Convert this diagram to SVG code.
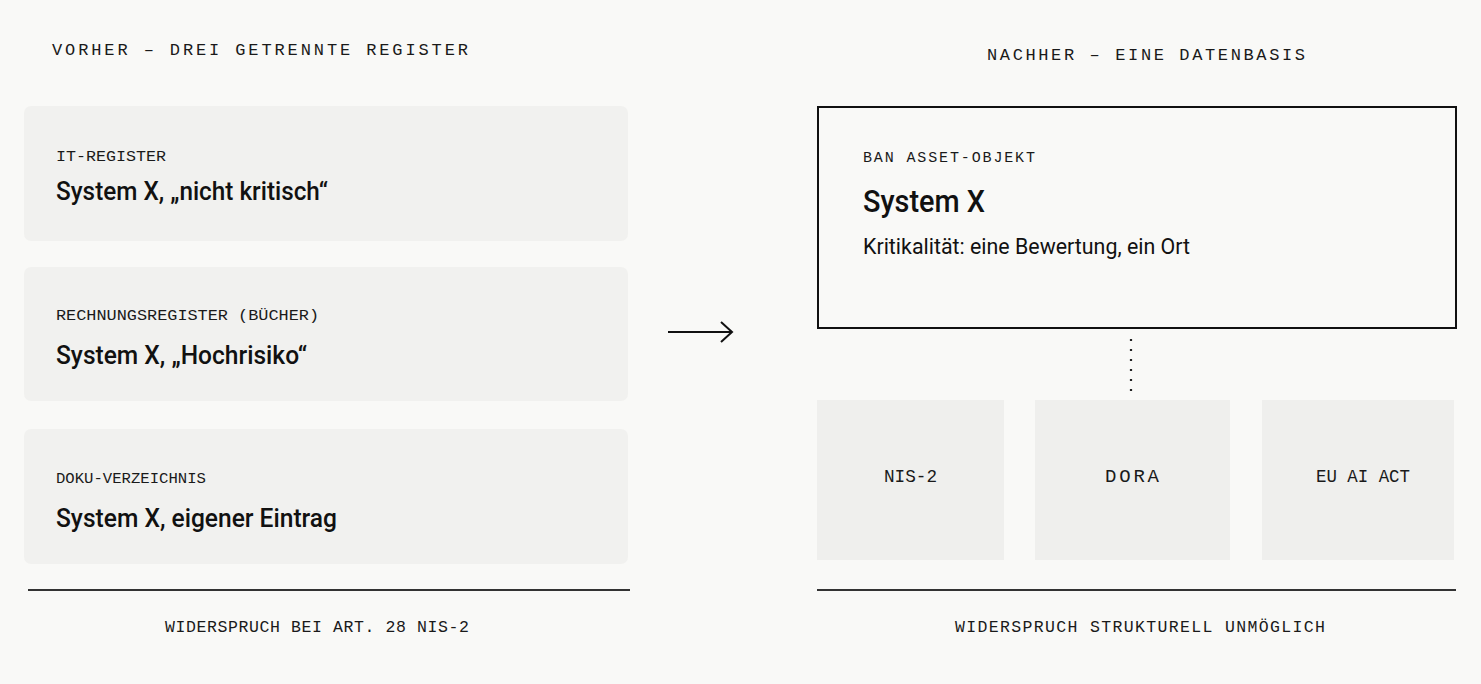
<svg xmlns="http://www.w3.org/2000/svg" width="1481" height="684" viewBox="0 0 1481 684">
<style>
.bg{fill:#f9f9f7}
.card{fill:#f1f1ef}
.tag{fill:#efefed}
.mono{font-family:"Liberation Mono","DejaVu Sans Mono",monospace;fill:#1a1a1a}
.h{font-size:17px}
.s{font-size:15px}
.m{font-size:16.5px}
.g{font-size:19px}
.sans{font-family:Roboto,"Liberation Sans",sans-serif;fill:#111}
.t{font-size:25px;font-weight:500}
.rule{stroke:#333;stroke-width:2}
</style>
<rect class="bg" x="0" y="0" width="1481" height="684"/>
<text class="mono h" x="52" y="55" textLength="416" lengthAdjust="spacing">VORHER – DREI GETRENNTE REGISTER</text>
<text class="mono h" x="987" y="60" textLength="318" lengthAdjust="spacing">NACHHER – EINE DATENBASIS</text>

<g id="it-register">
<rect class="card" x="24" y="106" width="604" height="135" rx="7"/>
<text class="mono s" x="56" y="161" textLength="110" lengthAdjust="spacingAndGlyphs">IT-REGISTER</text>
<text class="sans t" x="56" y="200" textLength="272" lengthAdjust="spacingAndGlyphs">System X, „nicht kritisch“</text>
</g>
<g id="rechnungsregister">
<rect class="card" x="24" y="267" width="604" height="134" rx="7"/>
<text class="mono s" x="56" y="320" textLength="263" lengthAdjust="spacingAndGlyphs">RECHNUNGSREGISTER (BÜCHER)</text>
<text class="sans t" x="56" y="364" textLength="251" lengthAdjust="spacingAndGlyphs">System X, „Hochrisiko“</text>
</g>
<g id="doku-verzeichnis">
<rect class="card" x="24" y="429" width="604" height="135" rx="7"/>
<text class="mono s" x="56" y="483" textLength="150" lengthAdjust="spacingAndGlyphs">DOKU-VERZEICHNIS</text>
<text class="sans t" x="56" y="527" textLength="281" lengthAdjust="spacingAndGlyphs">System X, eigener Eintrag</text>
</g>

<g id="ban-asset">
<rect x="818" y="107" width="638" height="221" fill="none" stroke="#111" stroke-width="2"/>
<text class="mono s" x="863" y="162" textLength="172" lengthAdjust="spacing">BAN ASSET-OBJEKT</text>
<text class="sans" x="863" y="212" font-size="31" font-weight="500" textLength="122" lengthAdjust="spacingAndGlyphs">System X</text>
<text class="sans" x="863" y="254" font-size="22" textLength="327" lengthAdjust="spacingAndGlyphs" fill="#222">Kritikalität: eine Bewertung, ein Ort</text>
</g>

<g id="nis2">
<rect class="tag" x="817" y="400" width="187" height="160"/>
<text class="mono g" x="884" y="482" textLength="53" lengthAdjust="spacingAndGlyphs">NIS-2</text>
</g>
<g id="dora">
<rect class="tag" x="1035" y="400" width="195" height="160"/>
<text class="mono g" x="1105" y="482" textLength="54" lengthAdjust="spacing">DORA</text>
</g>
<g id="euaiact">
<rect class="tag" x="1262" y="400" width="192" height="160"/>
<text class="mono g" x="1316" y="482" textLength="94" lengthAdjust="spacingAndGlyphs">EU AI ACT</text>
</g>

<g id="connectors">
<line x1="668" y1="332" x2="731" y2="332" stroke="#111" stroke-width="2"/>
<polyline points="721,322 732,332 721,342" fill="none" stroke="#111" stroke-width="2"/>
<line x1="1131" y1="339" x2="1131" y2="392" stroke="#222" stroke-width="2.2" stroke-dasharray="2 8" stroke-linecap="butt"/>
</g>

<line class="rule" x1="28" y1="590" x2="630" y2="590"/>
<line class="rule" x1="817" y1="590" x2="1456" y2="590"/>
<text class="mono m" x="165" y="632" textLength="304" lengthAdjust="spacing">WIDERSPRUCH BEI ART. 28 NIS-2</text>
<text class="mono m" x="955" y="632" textLength="370" lengthAdjust="spacing">WIDERSPRUCH STRUKTURELL UNMÖGLICH</text>
</svg>
